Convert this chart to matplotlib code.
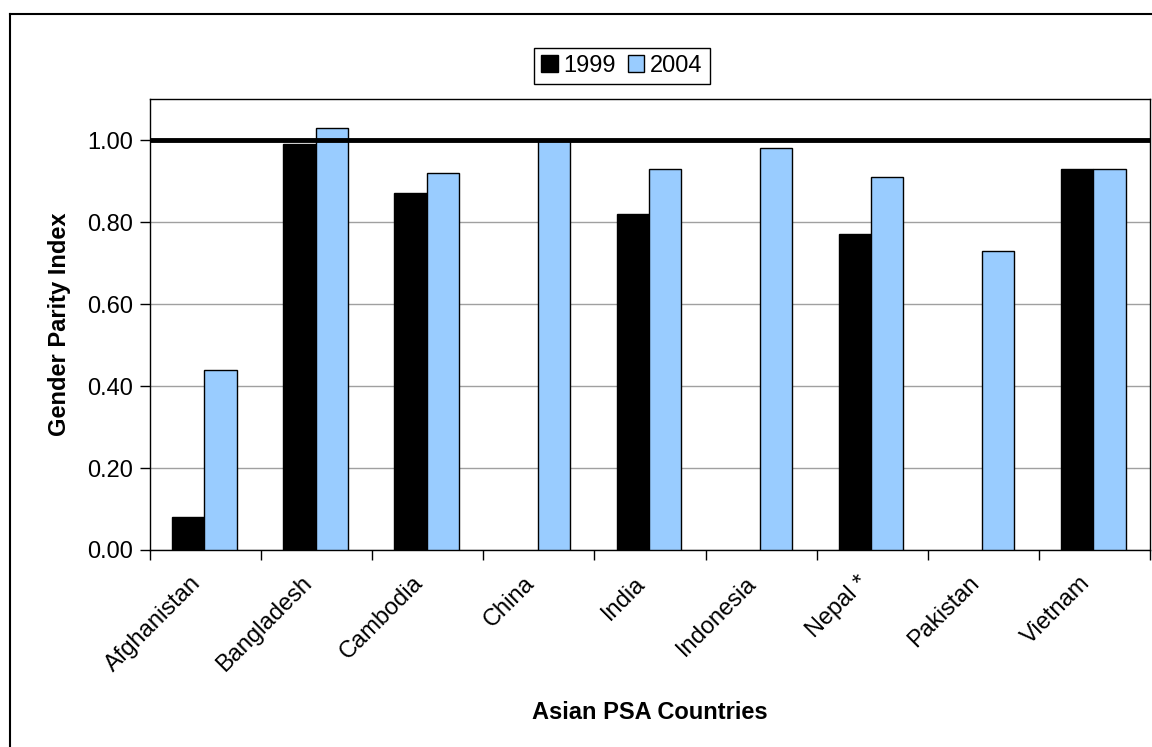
import numpy as np
import matplotlib
matplotlib.use("Agg")
from matplotlib import pyplot as plt
from matplotlib.patches import Patch
from matplotlib.lines import Line2D

plt.rcParams['font.family'] = ['Liberation Sans', 'DejaVu Sans']

countries = ['Afghanistan', 'Bangladesh', 'Cambodia', 'China', 'India',
             'Indonesia', 'Nepal *', 'Pakistan', 'Vietnam']
gpi_1999 = [0.08, 0.99, 0.87, np.nan, 0.82, np.nan, 0.77, np.nan, 0.93]
gpi_2004 = [0.44, 1.03, 0.92, 1.00, 0.93, 0.98, 0.91, 0.73, 0.93]
series_labels = ['1999', '2004']
parity_level = 1.0

FS = 17

fig = plt.figure(figsize=(11.52, 7.47), dpi=100)
ax = fig.add_axes([150 / 1152, 1 - 550 / 747, 1000 / 1152, 451 / 747])

idx = np.arange(len(countries))
bw = 0.29
ax.bar(idx + 0.2, gpi_1999, width=bw, align='edge', color='black',
       edgecolor='black', linewidth=1, zorder=3)
ax.bar(idx + 0.2 + bw, gpi_2004, width=bw, align='edge', color='#99CCFF',
       edgecolor='black', linewidth=1, zorder=3)

# parity reference line
ax.axhline(parity_level, color='black', linewidth=3.5, zorder=4)

ax.set_xlim(0, len(countries))
ax.set_ylim(0, 1.1)
ax.set_yticks(np.arange(0, 1.01, 0.2))
ax.set_yticklabels(['%.2f' % v for v in np.arange(0, 1.01, 0.2)], fontsize=FS)
ax.yaxis.grid(True, color='#a0a0a0', linewidth=1, zorder=0)
ax.tick_params(axis='y', length=7, width=1, pad=5)

ax.set_xticks(np.arange(len(countries) + 1))
ax.set_xticklabels([])
ax.set_xticks(idx + 0.5, minor=True)
ax.set_xticklabels(countries, minor=True, rotation=45, ha='right', va='top',
                   fontsize=FS)
ax.tick_params(axis='x', which='major', length=7, width=1)
ax.tick_params(axis='x', which='minor', length=0, pad=16)

for s in ax.spines.values():
    s.set_linewidth(1)
    s.set_color('black')

ax.set_ylabel('Gender Parity Index', fontsize=FS, fontweight='bold', labelpad=12)
ax.set_xlabel('Asian PSA Countries', fontsize=FS, fontweight='bold', labelpad=18)

handles = [Patch(facecolor='black', edgecolor='black'),
           Patch(facecolor='#99CCFF', edgecolor='black')]
leg = fig.legend(handles, series_labels, loc='center',
                 bbox_to_anchor=(622 / 1152, 1 - 66 / 747), ncol=2,
                 fontsize=FS, handlelength=0.7, handleheight=0.7,
                 handletextpad=0.25, columnspacing=0.5, fancybox=False,
                 borderpad=0.3, borderaxespad=0, framealpha=1)
leg.get_frame().set_edgecolor('black')
leg.get_frame().set_linewidth(1)

# chart area border (left and top edges visible)
fig.add_artist(Line2D([10 / 1152, 10 / 1152], [0, 1 - 14 / 747],
                      transform=fig.transFigure, color='black', linewidth=1.5))
fig.add_artist(Line2D([10 / 1152, 1], [1 - 14 / 747, 1 - 14 / 747],
                      transform=fig.transFigure, color='black', linewidth=1.5))

fig.savefig('out.png', dpi=100)
